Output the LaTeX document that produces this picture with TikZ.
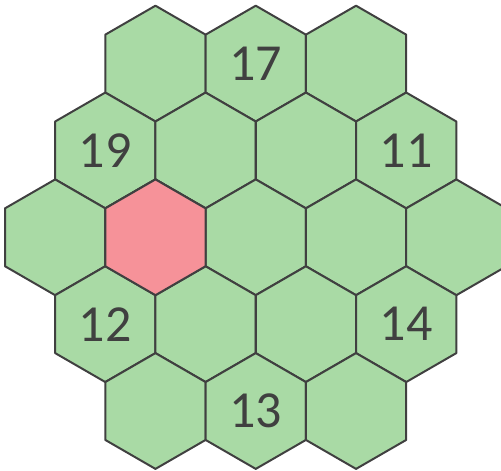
\documentclass[tikz,border=0pt]{standalone}
\usepackage{fontspec}
\setmainfont{Carlito}
\definecolor{hexgreen}{RGB}{169,218,165}
\definecolor{hexpink}{RGB}{246,146,153}
\definecolor{hexline}{RGB}{64,64,64}
\begin{document}
\begin{tikzpicture}[x=0.75pt,y=-0.75pt,line cap=round,line join=round,font=\fontsize{39}{39}\selectfont]
	\useasboundingbox (0,0) rectangle (501,471);
	\clip (0,0) rectangle (501,471);
	\def\w{100.3}\def\r{57.9}\def\h{86.85}
	\tikzset{cell/.pic={
			\draw[hexline,line width=1.5pt,fill=#1] (30:\r) -- (90:\r) -- (150:\r) -- (210:\r) -- (270:\r) -- (330:\r) -- cycle;
	}}
	\foreach \n/\xs [count=\j from 0] in {3/155.45,4/105.3,5/55.15,4/105.3,3/155.45}{
		\foreach \i in {1,...,\n}{\pic at ({\xs+(\i-1)*\w},{237.3+(\j-2)*\h}) {cell=hexgreen};}}
	\pic at (155.45,237.3) {cell=hexpink};
	% numbered cells
	\foreach \nm/\x/\y/\t in {a/255.75/63.6/17,b/105.3/150.45/19,c/406.2/150.45/11,d/105.3/324.15/12,e/406.2/324.15/14,f/255.75/411/13}{
		\node[text=hexline] (num\nm) at (\x,\y) {\t};}
\end{tikzpicture}
\end{document}
